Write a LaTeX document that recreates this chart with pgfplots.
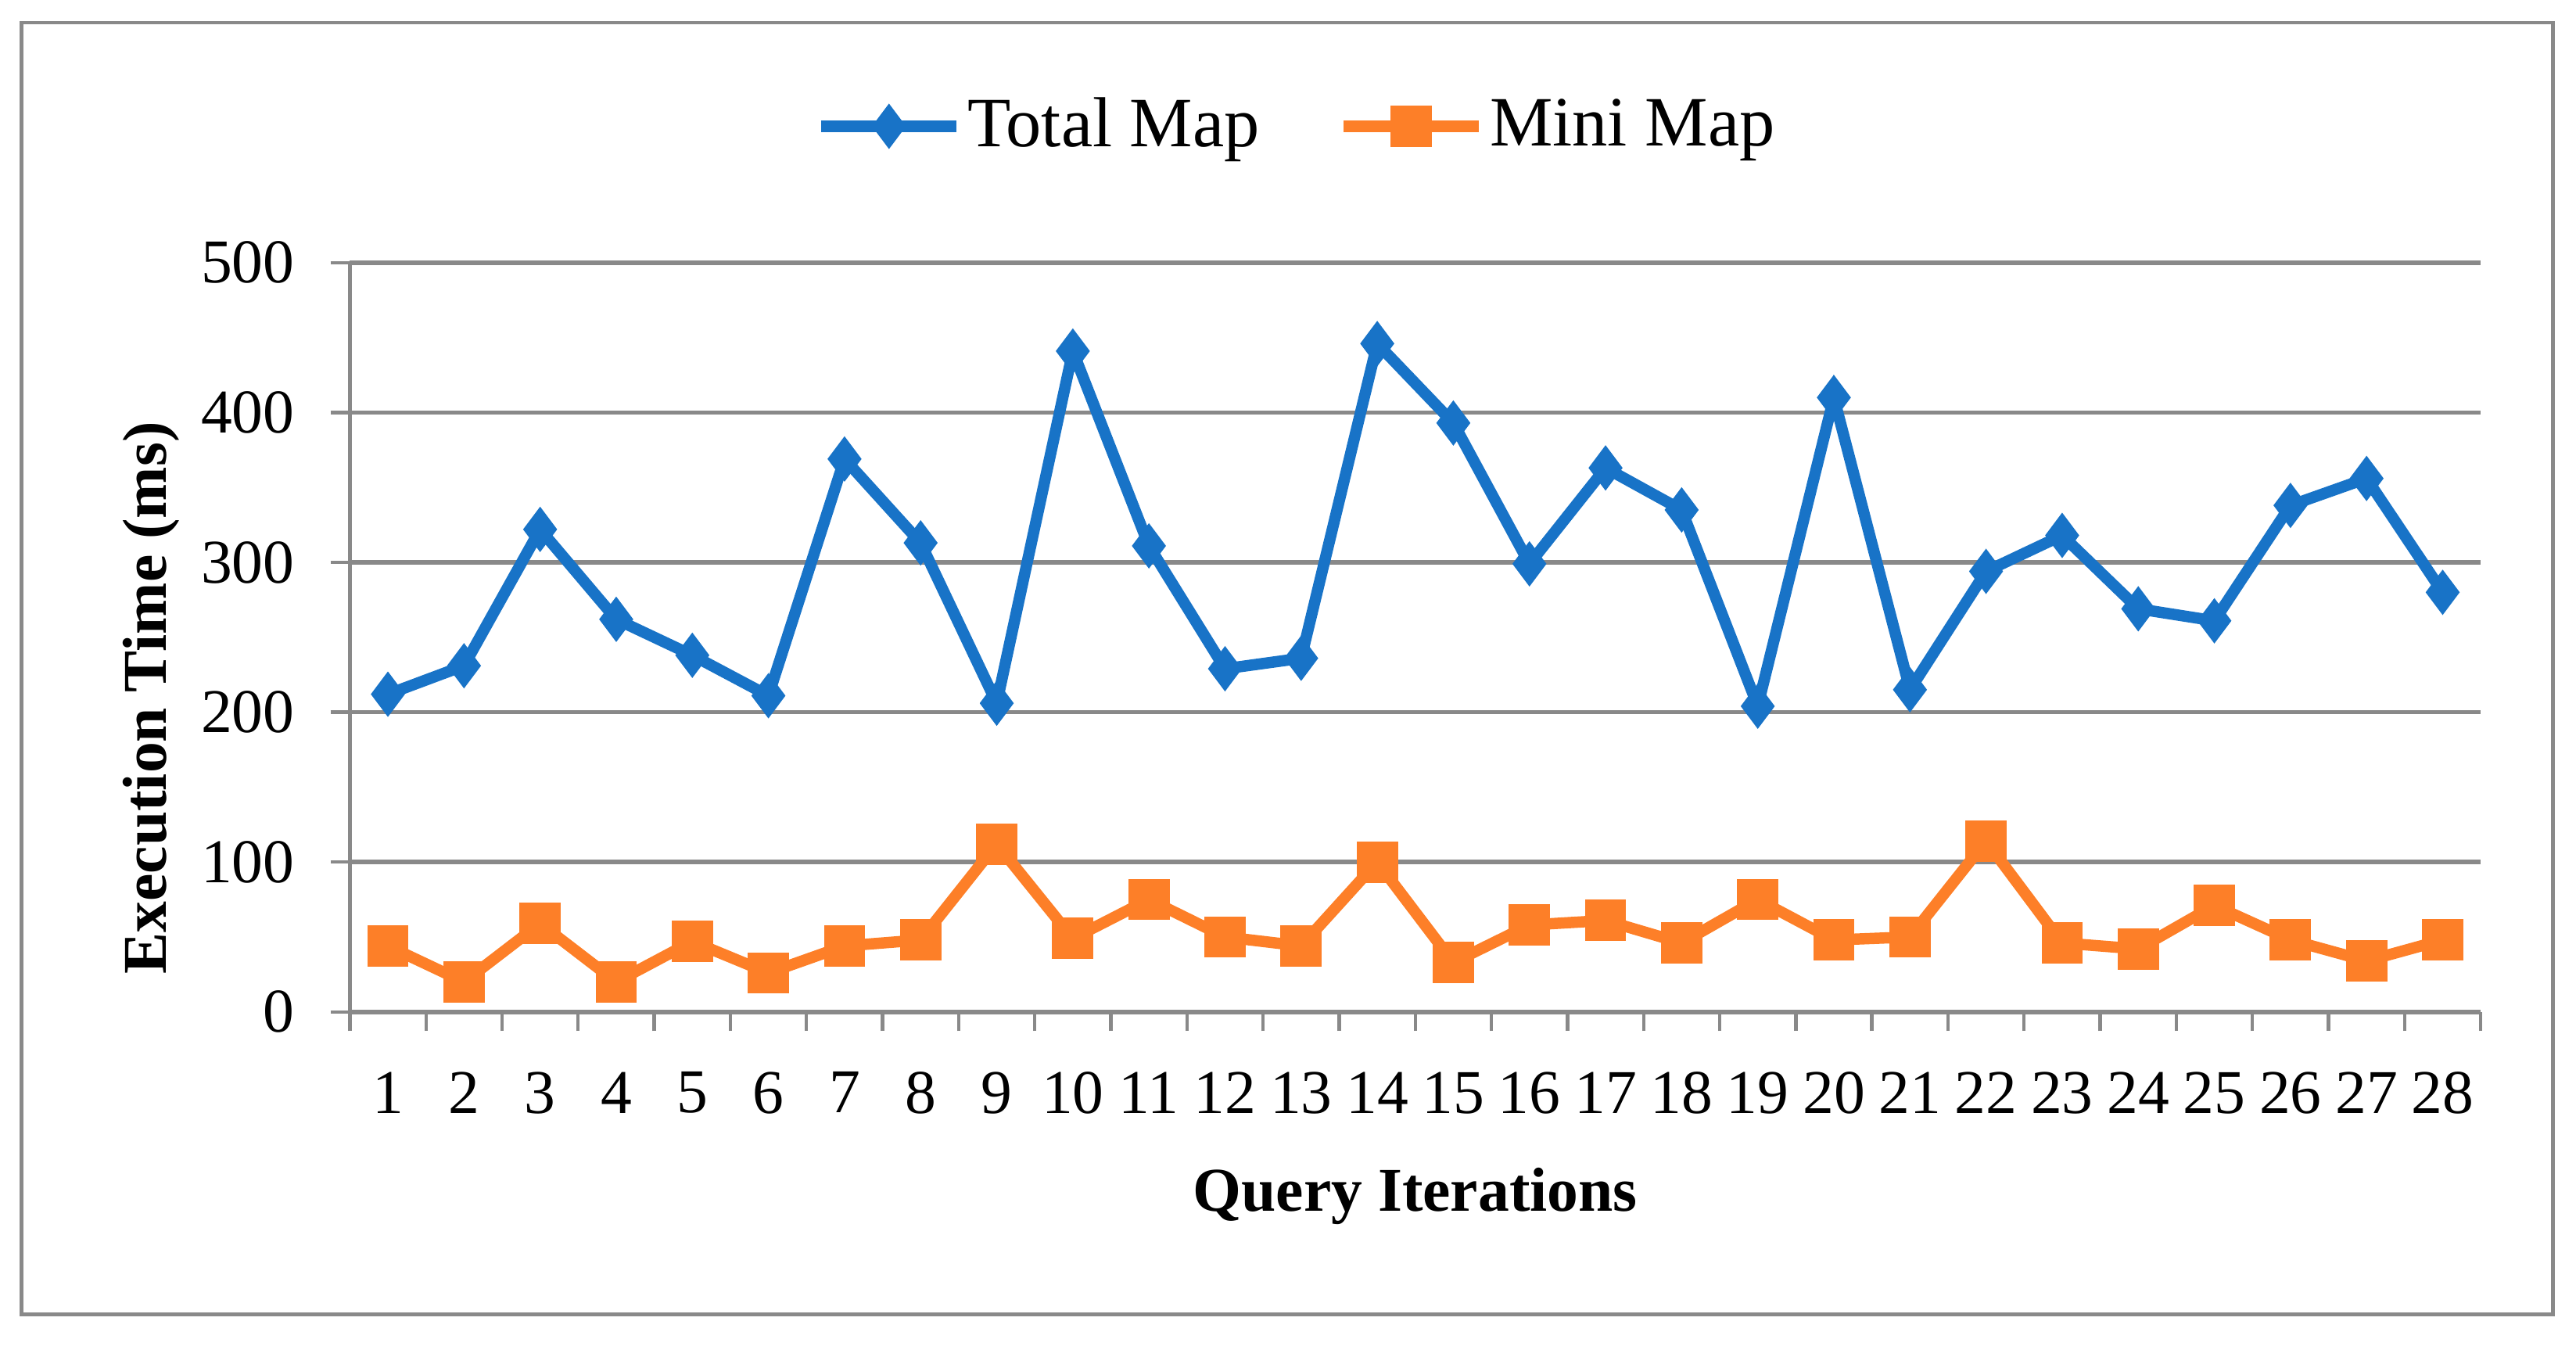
\documentclass[border=0pt]{standalone}
\usepackage{fontspec}
\setmainfont{Liberation Serif}
\usepackage{pgfplots}
\pgfplotsset{compat=1.18}

\definecolor{totalblue}{RGB}{24,115,199}
\definecolor{miniorange}{RGB}{253,127,40}
\definecolor{axgray}{RGB}{137,137,137}

\begin{document}
\begin{tikzpicture}
\useasboundingbox (0,0) rectangle (16cm,8.427cm);
\draw[axgray, line width=0.6pt] (0.133cm,0.265cm) rectangle (15.857cm,8.286cm);

\begin{axis}[
    at={(2.173cm,2.143cm)}, anchor=south west,
    scale only axis,
    width=13.235cm, height=4.653cm,
    xmin=0.5, xmax=28.5,
    ymin=0, ymax=500,
    xtick={1,...,28},
    minor xtick={0.5,1.5,...,28.5},
    ytick={0,100,...,500},
    major x tick style={draw=none},
    tick align=outside,
    major tick length=0.12cm,
    minor tick length=0.12cm,
    tick style={axgray, line width=0.6pt},
    axis x line*=bottom,
    axis y line*=left,
    axis line style={axgray, line width=0.6pt, -},
    ymajorgrids=true,
    grid style={axgray, line width=0.8pt},
    /pgf/number format/assume math mode=true,
    tick label style={font=\fontsize{11}{12}\selectfont},
    xticklabel style={yshift=-0.13cm},
    yticklabel style={xshift=-0.1cm},
    xlabel={\textbf{Query Iterations}},
    ylabel={\textbf{Execution Time (ms)}},
    label style={font=\fontsize{11}{12}\selectfont},
    xlabel style={at={(axis description cs:0.5,-0.2456)}, anchor=center},
    ylabel style={at={(axis description cs:-0.0933,0.419)}, anchor=center},
    legend columns=2,
    legend style={draw=none, fill=none, at={(axis description cs:0.445,1.182)}, anchor=center,
        font=\fontsize{12.5}{14}\selectfont,
        nodes={inner xsep=1pt},
        /tikz/every even column/.append style={column sep=0.45cm}},
    legend image code/.code={
        \draw[#1, mark repeat=2, mark phase=2] plot coordinates {(0cm,0cm) (0.42cm,0cm) (0.84cm,0cm)};
    },
]
\addplot[totalblue, line width=2pt, mark=diamond*, mark size=3.6pt, mark options={solid, fill=totalblue, line width=0.5pt}]
coordinates {
(1,212)(2,231)(3,322)(4,262)(5,238)(6,211)(7,369)(8,313)(9,206)(10,441)
(11,311)(12,229)(13,236)(14,446)(15,393)(16,299)(17,363)(18,335)(19,204)(20,410)
(21,215)(22,294)(23,318)(24,269)(25,261)(26,338)(27,356)(28,280)
};
\addlegendentry{Total Map}
\addplot[miniorange, line width=2pt, mark=square*, mark size=3.4pt, mark options={solid, fill=miniorange, line width=0.5pt}]
coordinates {
(1,44)(2,20)(3,59)(4,20)(5,47)(6,26)(7,44)(8,48)(9,112)(10,49)
(11,75)(12,50)(13,44)(14,100)(15,33)(16,58)(17,61)(18,46)(19,75)(20,48)
(21,50)(22,114)(23,46)(24,42)(25,71)(26,48)(27,34)(28,48)
};
\addlegendentry{Mini Map}
\end{axis}
\end{tikzpicture}
\end{document}
